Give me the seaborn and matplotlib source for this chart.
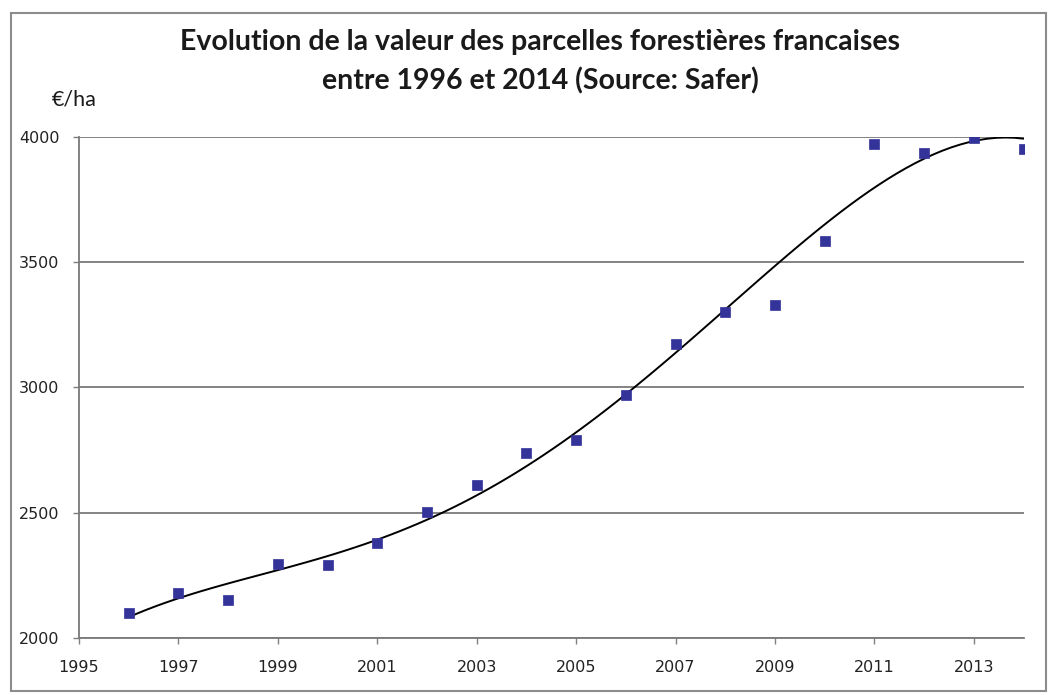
import matplotlib
matplotlib.use("Agg")
import numpy as np
import pandas as pd
import matplotlib.pyplot as plt
import seaborn as sns
from matplotlib.patches import Rectangle

# Valeur des parcelles forestieres (euros / ha)
years = [1996, 1997, 1998, 1999, 2000, 2001, 2002, 2003, 2004, 2005,
         2006, 2007, 2008, 2009, 2010, 2011, 2012, 2013, 2014]
values = [2100, 2180, 2150, 2295, 2290, 2378, 2502, 2610, 2737, 2792,
          2970, 3175, 3300, 3330, 3584, 3970, 3934, 3995, 3950]
x_ticks = [1995, 1997, 1999, 2001, 2003, 2005, 2007, 2009, 2011, 2013]
y_ticks = [2000, 2500, 3000, 3500, 4000]

df = pd.DataFrame({"annee": years, "valeur": values})

sns.set_style("white")
plt.rcParams['font.family'] = ['DejaVu Sans']

fig = plt.figure(figsize=(10.53, 6.95), dpi=100)
ax = fig.add_axes([0.075, 0.082, 0.897, 0.721])

# cadre gris autour du graphique
fig.patches.append(Rectangle((0.010, 0.006), 0.983, 0.975, transform=fig.transFigure,
                             fill=False, edgecolor='#8c8c8c', linewidth=1.5))

# courbe de tendance polynomiale
sns.regplot(data=df, x="annee", y="valeur", order=4, ci=None, scatter=False,
            truncate=True, line_kws={"color": "black", "linewidth": 1.4}, ax=ax)

sns.scatterplot(data=df, x="annee", y="valeur", marker='s', s=55,
                color='#33339a', edgecolor='#33339a', linewidth=0.5, zorder=3, ax=ax)

ax.set_xlim(1995, 2014)
ax.set_ylim(2000, 4000)
ax.set_xticks(x_ticks)
ax.set_yticks(y_ticks)
ax.yaxis.grid(True, color='#7a7a7a', linewidth=1.3)
ax.set_axisbelow(True)
ax.set_xlabel("")
ax.set_ylabel("")
ax.tick_params(axis='both', labelsize=11.5, length=4, width=1, color='#7f7f7f',
               direction='out', bottom=True, left=True, labelcolor='#222222')
ax.tick_params(axis='x', pad=12)
ax.tick_params(axis='y', pad=10)
for side in ['top', 'right']:
    ax.spines[side].set_visible(False)
for side in ['left', 'bottom']:
    ax.spines[side].set_color('#7a7a7a')
    ax.spines[side].set_linewidth(1.3)

fig.text(0.513, 0.94, "Evolution de la valeur des parcelles forestières francaises",
         ha='center', va='center', fontsize=20.5, fontweight='bold',
         family=['Lato', 'DejaVu Sans'], color='#1a1a1a')
fig.text(0.513, 0.884, "entre 1996 et 2014 (Source: Safer)",
         ha='center', va='center', fontsize=20.5, fontweight='bold',
         family=['Lato', 'DejaVu Sans'], color='#1a1a1a')
fig.text(0.049, 0.857, "€/ha", ha='left', va='center', fontsize=15.5,
         family=['Lato', 'DejaVu Sans'], color='#1a1a1a')

fig.savefig("out.png", dpi=100)
